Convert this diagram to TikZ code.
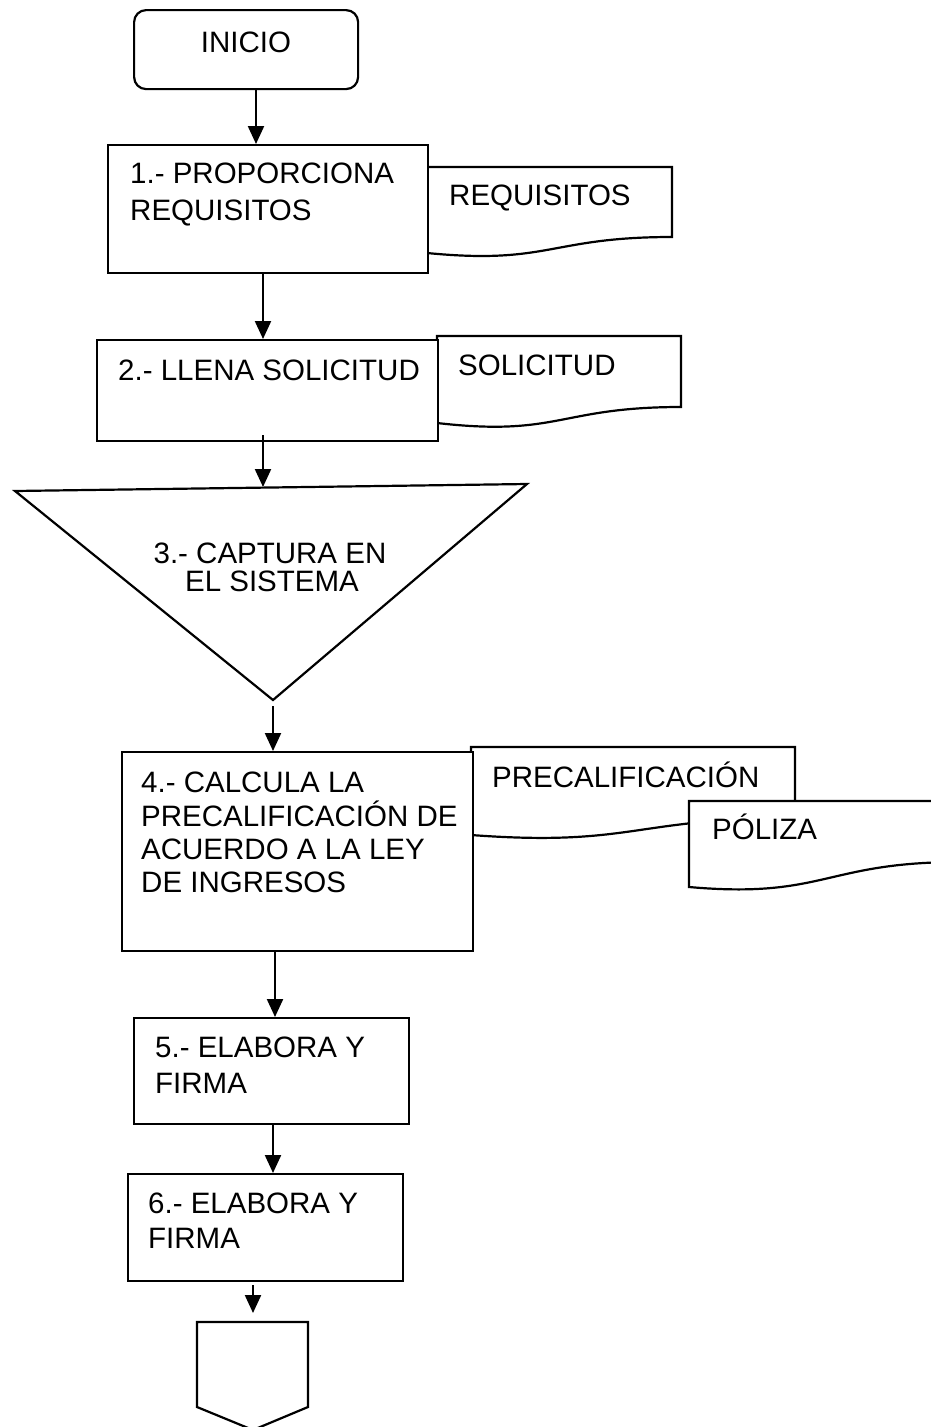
\documentclass[tikz,border=0pt]{standalone}
\usepackage{fontspec}
\setmainfont{Liberation Sans}
\usetikzlibrary{arrows.meta,calc}
\begin{document}
\begin{tikzpicture}[x=1pt,y=-1pt,
  box/.style={draw, line width=2.2pt, fill=white, rectangle, inner sep=0pt, anchor=north west},
  txt/.style={font=\fontsize{29.5}{35}\selectfont, inner sep=0pt, anchor=base west},
  ctxt/.style={font=\fontsize{29.5}{35}\selectfont, inner sep=0pt, anchor=base},
  arr/.style={line width=2.2pt, -{Triangle[width=16pt,length=18pt]}},
  docst/.style={draw, line width=2.2pt, fill=white, line join=miter}]
\fill[white] (0,0) rectangle (930,1427);
\useasboundingbox (0,0) rectangle (930,1427);

% document shapes
\newcommand\docpath[6]{%
  \draw[docst] (#1,#3) -- (#2,#3) -- (#2,#4)
    .. controls ({(#1+#2)/2},#4) and ({(#1+#2)/2},{#5+#6}) .. (#1,#5) -- cycle;}
\docpath{427}{672}{167}{237}{253}{12}
\docpath{437}{681}{336}{407}{423}{14}
\docpath{471}{795}{747}{818}{835}{12}
\docpath{689}{960}{801}{862}{887}{12}

% document texts
\node[txt] (tReq) at (449,205) {REQUISITOS};
\node[txt] (tSol) at (458,375) {SOLICITUD};
\node[txt] (tPre) at (492,787) {PRECALIFICACIÓN};
\node[txt] (tPol) at (712,839) {PÓLIZA};

% INICIO
\node[box, rounded corners=12pt, minimum width=224pt, minimum height=79pt] (ini) at (133,9) {};
\node[ctxt] (tIni) at (246,52) {INICIO};

% Box 1
\node[box, minimum width=320pt, minimum height=128pt] (b1) at (107,144) {};
\node[txt] (t1a) at (130,183) {1.- PROPORCIONA};
\node[txt] (t1b) at (130,220) {REQUISITOS};

% Box 2
\node[box, minimum width=341pt, minimum height=101pt] (b2) at (96,339) {};
\node[txt] (t2a) at (118,380) {2.- LLENA SOLICITUD};

% Triangle
\coordinate (tL) at (15,491);
\coordinate (tR) at (527,484);
\coordinate (tA) at (273,700);
\coordinate (tTop) at (263,487);
\draw[line width=2.2pt, line join=miter] (tL) -- (tR) -- (tA) -- cycle;
\node[ctxt] (t3a) at (270,563) {3.- CAPTURA EN};
\node[ctxt] (t3b) at (272,591) {EL SISTEMA};

% Box 4
\node[box, minimum width=351pt, minimum height=199pt] (b4) at (121,751) {};
\node[txt] (t4a) at (141,792) {4.- CALCULA LA};
\node[txt] (t4b) at (141,826) {PRECALIFICACIÓN DE};
\node[txt] (t4c) at (141,859) {ACUERDO A LA LEY};
\node[txt] (t4d) at (141,892) {DE INGRESOS};

% Box 5
\node[box, minimum width=275pt, minimum height=106pt] (b5) at (133,1017) {};
\node[txt] (t5a) at (155,1057) {5.- ELABORA Y};
\node[txt] (t5b) at (155,1093) {FIRMA};

% Box 6
\node[box, minimum width=275pt, minimum height=107pt] (b6) at (127,1173) {};
\node[txt] (t6a) at (148,1213) {6.- ELABORA Y};
\node[txt] (t6b) at (148,1248) {FIRMA};

% Off-page connector
\coordinate (pTop) at (253,1322);
\draw[line width=2.2pt, line join=miter] (197,1322) -- (308,1322) -- (308,1407) -- (253,1430) -- (197,1407) -- cycle;

% arrow columns
\coordinate (c1) at (256,0);
\coordinate (c2) at (263,0);
\coordinate (c5) at (275,0);
\coordinate (c6) at (273,0);
\coordinate (c7) at (253,0);

\draw[arr] (ini.south -| c1) -- (b1.north -| c1);
\draw[arr] (b1.south -| c2) -- (b2.north -| c2);
\draw[arr] ([yshift=7pt]b2.south -| c2) -- (tTop);
\draw[arr] ([yshift=-6pt]tA) -- (b4.north -| tA);
\draw[arr] (b4.south -| c5) -- (b5.north -| c5);
\draw[arr] (b5.south -| c6) -- (b6.north -| c6);
\draw[arr] ([yshift=-3pt]b6.south -| c7) -- ([yshift=9pt]pTop);
\end{tikzpicture}
\end{document}
